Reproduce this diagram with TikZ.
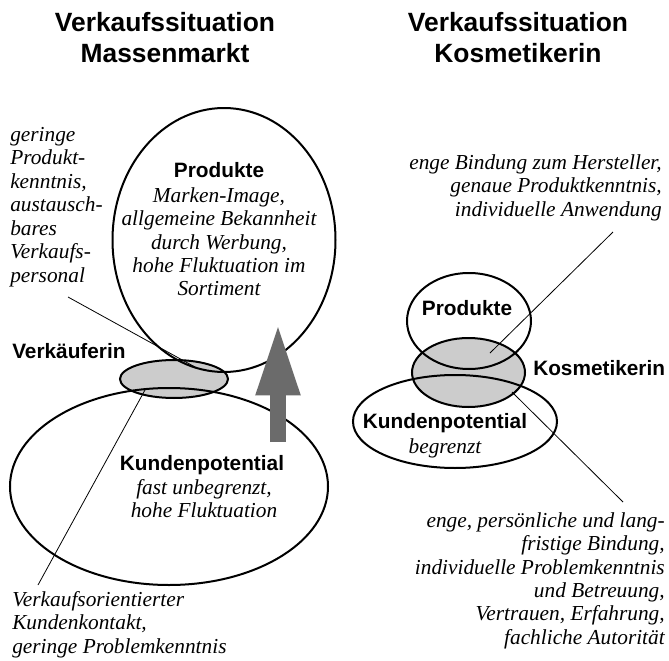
\documentclass[tikz,border=0pt]{standalone}
\usepackage{fontspec}
\setmainfont{Liberation Serif}
\setsansfont{Liberation Sans}
\usetikzlibrary{shapes.geometric,arrows.meta,positioning}
\begin{document}
\begin{tikzpicture}[x=0.75pt,y=-0.75pt,
    ttl/.style={font=\sffamily\bfseries\fontsize{19.8}{23.25}\selectfont, align=center, inner sep=0pt},
    lbl/.style={font=\sffamily\bfseries\fontsize{15.6}{18}\selectfont, inner sep=0pt},
    note/.style={font=\itshape\fontsize{16}{17.6}\selectfont, inner sep=0pt},
    blob/.style={ellipse, draw, line width=1.5pt, inner sep=0pt},
    fblob/.style={blob, fill=black!20},
    lead/.style={line width=0.6pt},
    bigarrow/.style={draw=black!58, line width=12pt, -{Triangle[width=30pt,length=55pt]}}]
    \useasboundingbox (0,0) rectangle (669,661);
    % titles
    \node[ttl] (ttlL) at (165,38) {Verkaufssituation\\Massenmarkt};
    \node[ttl] (ttlR) at (518,38) {Verkaufssituation\\Kosmetikerin};

    % Massenmarkt
    \node[fblob, minimum width=81pt, minimum height=28.5pt] (verk) at (174,379) {};
    \node[blob, minimum width=167.25pt, minimum height=198pt] (prodL) at (224,240) {};
    \node[blob, minimum width=238.5pt, minimum height=147.75pt] (kundL) at (169,486.5) {};
    \coordinate (verkA) at (68,297);
    \coordinate (verkB) at (195,367);
    \coordinate (kontA) at (145,390);
    \coordinate (kontB) at (38,585);
    \draw[lead] (verkA) -- (verkB);
    \draw[lead] (kontA) -- (kontB);
    \node[lbl] (prodLlbl) at (219,170) {Produkte};
    \node[note, align=center, anchor=north] (prodLtxt) at (219,187) {Marken-Image,\\allgemeine Bekannheit\\durch Werbung,\\hohe Fluktuation im\\Sortiment};
    \node[lbl, anchor=west] (verkLbl) at (12,351) {Verkäuferin};
    \node[lbl] (kundLlbl) at (202,465) {Kundenpotential};
    \node[note, align=center, anchor=north] (kundLtxt) at (204,479) {fast unbegrenzt,\\hohe Fluktuation};
    \node[note, align=left, anchor=north west] (noteTL) at (10,127) {geringe\\Produkt-\\kenntnis,\\austausch-\\bares\\Verkaufs-\\personal};
    \node[note, align=left, anchor=north west] (noteBL) at (12,591) {Verkaufsorientierter\\Kundenkontakt,\\geringe Problemkenntnis};
    \coordinate (arB) at (278,442);
    \coordinate (arT) at (278,322);
    \draw[bigarrow] (arB) -- (arT);

    % Kosmetikerin
    \node[fblob, minimum width=84.75pt, minimum height=51.75pt] (kosm) at (468.5,372.5) {};
    \node[blob, minimum width=93pt, minimum height=72pt] (prodR) at (469,321) {};
    \node[blob, minimum width=153pt, minimum height=69.75pt] (kundR) at (455,421.5) {};
    \coordinate (herA) at (613,232);
    \coordinate (herB) at (490,353);
    \coordinate (bindA) at (512,392);
    \coordinate (bindB) at (623,502);
    \draw[lead] (herA) -- (herB);
    \draw[lead] (bindA) -- (bindB);
    \node[lbl] (prodRlbl) at (467,308) {Produkte};
    \node[lbl, anchor=west] (kosmLbl) at (533,368) {Kosmetikerin};
    \node[lbl] (kundRlbl) at (445,423) {Kundenpotential};
    \node[note] (kundRtxt) at (445,448) {begrenzt};
    \node[note, align=right, anchor=north east] (noteTR) at (662,154) {enge Bindung zum Hersteller,\\genaue Produktkenntnis,\\individuelle Anwendung};
    \node[note, align=right, anchor=north east] (noteBR) at (665,512) {enge, persönliche und lang-\\fristige Bindung,\\individuelle Problemkenntnis\\und Betreuung,\\Vertrauen, Erfahrung,\\fachliche Autorität};
\end{tikzpicture}
\end{document}
